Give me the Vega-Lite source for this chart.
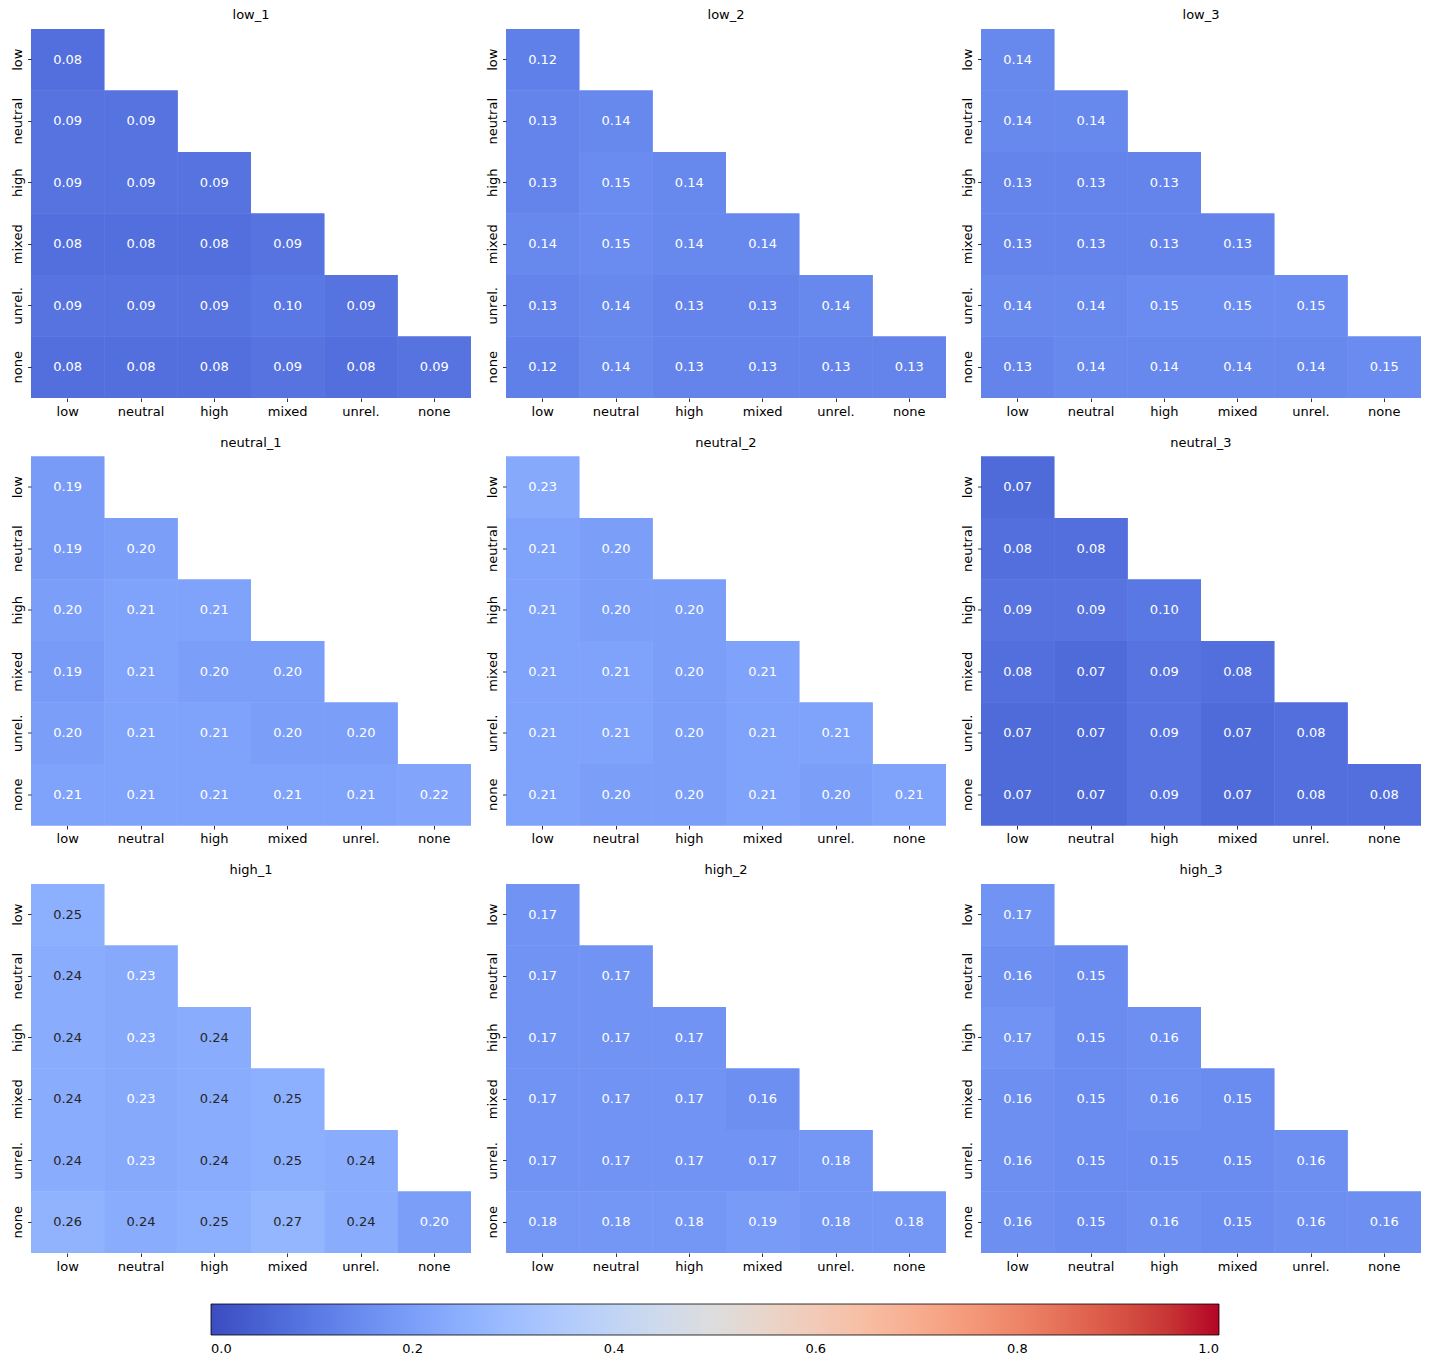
{
  "$schema": "https://vega.github.io/schema/vega-lite/v6.json",
  "background": "white",
  "padding": {"left": 11, "top": 9, "right": 10, "bottom": 5},
  "config": {
    "font": "DejaVu Sans",
    "view": {"stroke": null},
    "axis": {"domain": false, "grid": false, "ticks": true, "tickSize": 3.5, "tickColor": "black", "tickWidth": 0.8, "labelPadding": 3.5, "labelFontSize": 13, "labelColor": "black", "labelFont": "DejaVu Sans"},
    "legend": {"labelFont": "DejaVu Sans", "labelFlush": 0, "labelAlign": "center"}
  },
  "data": {"values": [
    {"p":"low_1","r":"low","c":"low","v":0.08},
    {"p":"low_1","r":"neutral","c":"low","v":0.09},{"p":"low_1","r":"neutral","c":"neutral","v":0.09},
    {"p":"low_1","r":"high","c":"low","v":0.09},{"p":"low_1","r":"high","c":"neutral","v":0.09},{"p":"low_1","r":"high","c":"high","v":0.09},
    {"p":"low_1","r":"mixed","c":"low","v":0.08},{"p":"low_1","r":"mixed","c":"neutral","v":0.08},{"p":"low_1","r":"mixed","c":"high","v":0.08},{"p":"low_1","r":"mixed","c":"mixed","v":0.09},
    {"p":"low_1","r":"unrel.","c":"low","v":0.09},{"p":"low_1","r":"unrel.","c":"neutral","v":0.09},{"p":"low_1","r":"unrel.","c":"high","v":0.09},{"p":"low_1","r":"unrel.","c":"mixed","v":0.10},{"p":"low_1","r":"unrel.","c":"unrel.","v":0.09},
    {"p":"low_1","r":"none","c":"low","v":0.08},{"p":"low_1","r":"none","c":"neutral","v":0.08},{"p":"low_1","r":"none","c":"high","v":0.08},{"p":"low_1","r":"none","c":"mixed","v":0.09},{"p":"low_1","r":"none","c":"unrel.","v":0.08},{"p":"low_1","r":"none","c":"none","v":0.09},

    {"p":"low_2","r":"low","c":"low","v":0.12},
    {"p":"low_2","r":"neutral","c":"low","v":0.13},{"p":"low_2","r":"neutral","c":"neutral","v":0.14},
    {"p":"low_2","r":"high","c":"low","v":0.13},{"p":"low_2","r":"high","c":"neutral","v":0.15},{"p":"low_2","r":"high","c":"high","v":0.14},
    {"p":"low_2","r":"mixed","c":"low","v":0.14},{"p":"low_2","r":"mixed","c":"neutral","v":0.15},{"p":"low_2","r":"mixed","c":"high","v":0.14},{"p":"low_2","r":"mixed","c":"mixed","v":0.14},
    {"p":"low_2","r":"unrel.","c":"low","v":0.13},{"p":"low_2","r":"unrel.","c":"neutral","v":0.14},{"p":"low_2","r":"unrel.","c":"high","v":0.13},{"p":"low_2","r":"unrel.","c":"mixed","v":0.13},{"p":"low_2","r":"unrel.","c":"unrel.","v":0.14},
    {"p":"low_2","r":"none","c":"low","v":0.12},{"p":"low_2","r":"none","c":"neutral","v":0.14},{"p":"low_2","r":"none","c":"high","v":0.13},{"p":"low_2","r":"none","c":"mixed","v":0.13},{"p":"low_2","r":"none","c":"unrel.","v":0.13},{"p":"low_2","r":"none","c":"none","v":0.13},

    {"p":"low_3","r":"low","c":"low","v":0.14},
    {"p":"low_3","r":"neutral","c":"low","v":0.14},{"p":"low_3","r":"neutral","c":"neutral","v":0.14},
    {"p":"low_3","r":"high","c":"low","v":0.13},{"p":"low_3","r":"high","c":"neutral","v":0.13},{"p":"low_3","r":"high","c":"high","v":0.13},
    {"p":"low_3","r":"mixed","c":"low","v":0.13},{"p":"low_3","r":"mixed","c":"neutral","v":0.13},{"p":"low_3","r":"mixed","c":"high","v":0.13},{"p":"low_3","r":"mixed","c":"mixed","v":0.13},
    {"p":"low_3","r":"unrel.","c":"low","v":0.14},{"p":"low_3","r":"unrel.","c":"neutral","v":0.14},{"p":"low_3","r":"unrel.","c":"high","v":0.15},{"p":"low_3","r":"unrel.","c":"mixed","v":0.15},{"p":"low_3","r":"unrel.","c":"unrel.","v":0.15},
    {"p":"low_3","r":"none","c":"low","v":0.13},{"p":"low_3","r":"none","c":"neutral","v":0.14},{"p":"low_3","r":"none","c":"high","v":0.14},{"p":"low_3","r":"none","c":"mixed","v":0.14},{"p":"low_3","r":"none","c":"unrel.","v":0.14},{"p":"low_3","r":"none","c":"none","v":0.15},

    {"p":"neutral_1","r":"low","c":"low","v":0.19},
    {"p":"neutral_1","r":"neutral","c":"low","v":0.19},{"p":"neutral_1","r":"neutral","c":"neutral","v":0.20},
    {"p":"neutral_1","r":"high","c":"low","v":0.20},{"p":"neutral_1","r":"high","c":"neutral","v":0.21},{"p":"neutral_1","r":"high","c":"high","v":0.21},
    {"p":"neutral_1","r":"mixed","c":"low","v":0.19},{"p":"neutral_1","r":"mixed","c":"neutral","v":0.21},{"p":"neutral_1","r":"mixed","c":"high","v":0.20},{"p":"neutral_1","r":"mixed","c":"mixed","v":0.20},
    {"p":"neutral_1","r":"unrel.","c":"low","v":0.20},{"p":"neutral_1","r":"unrel.","c":"neutral","v":0.21},{"p":"neutral_1","r":"unrel.","c":"high","v":0.21},{"p":"neutral_1","r":"unrel.","c":"mixed","v":0.20},{"p":"neutral_1","r":"unrel.","c":"unrel.","v":0.20},
    {"p":"neutral_1","r":"none","c":"low","v":0.21},{"p":"neutral_1","r":"none","c":"neutral","v":0.21},{"p":"neutral_1","r":"none","c":"high","v":0.21},{"p":"neutral_1","r":"none","c":"mixed","v":0.21},{"p":"neutral_1","r":"none","c":"unrel.","v":0.21},{"p":"neutral_1","r":"none","c":"none","v":0.22},

    {"p":"neutral_2","r":"low","c":"low","v":0.23},
    {"p":"neutral_2","r":"neutral","c":"low","v":0.21},{"p":"neutral_2","r":"neutral","c":"neutral","v":0.20},
    {"p":"neutral_2","r":"high","c":"low","v":0.21},{"p":"neutral_2","r":"high","c":"neutral","v":0.20},{"p":"neutral_2","r":"high","c":"high","v":0.20},
    {"p":"neutral_2","r":"mixed","c":"low","v":0.21},{"p":"neutral_2","r":"mixed","c":"neutral","v":0.21},{"p":"neutral_2","r":"mixed","c":"high","v":0.20},{"p":"neutral_2","r":"mixed","c":"mixed","v":0.21},
    {"p":"neutral_2","r":"unrel.","c":"low","v":0.21},{"p":"neutral_2","r":"unrel.","c":"neutral","v":0.21},{"p":"neutral_2","r":"unrel.","c":"high","v":0.20},{"p":"neutral_2","r":"unrel.","c":"mixed","v":0.21},{"p":"neutral_2","r":"unrel.","c":"unrel.","v":0.21},
    {"p":"neutral_2","r":"none","c":"low","v":0.21},{"p":"neutral_2","r":"none","c":"neutral","v":0.20},{"p":"neutral_2","r":"none","c":"high","v":0.20},{"p":"neutral_2","r":"none","c":"mixed","v":0.21},{"p":"neutral_2","r":"none","c":"unrel.","v":0.20},{"p":"neutral_2","r":"none","c":"none","v":0.21},

    {"p":"neutral_3","r":"low","c":"low","v":0.07},
    {"p":"neutral_3","r":"neutral","c":"low","v":0.08},{"p":"neutral_3","r":"neutral","c":"neutral","v":0.08},
    {"p":"neutral_3","r":"high","c":"low","v":0.09},{"p":"neutral_3","r":"high","c":"neutral","v":0.09},{"p":"neutral_3","r":"high","c":"high","v":0.10},
    {"p":"neutral_3","r":"mixed","c":"low","v":0.08},{"p":"neutral_3","r":"mixed","c":"neutral","v":0.07},{"p":"neutral_3","r":"mixed","c":"high","v":0.09},{"p":"neutral_3","r":"mixed","c":"mixed","v":0.08},
    {"p":"neutral_3","r":"unrel.","c":"low","v":0.07},{"p":"neutral_3","r":"unrel.","c":"neutral","v":0.07},{"p":"neutral_3","r":"unrel.","c":"high","v":0.09},{"p":"neutral_3","r":"unrel.","c":"mixed","v":0.07},{"p":"neutral_3","r":"unrel.","c":"unrel.","v":0.08},
    {"p":"neutral_3","r":"none","c":"low","v":0.07},{"p":"neutral_3","r":"none","c":"neutral","v":0.07},{"p":"neutral_3","r":"none","c":"high","v":0.09},{"p":"neutral_3","r":"none","c":"mixed","v":0.07},{"p":"neutral_3","r":"none","c":"unrel.","v":0.08},{"p":"neutral_3","r":"none","c":"none","v":0.08},

    {"p":"high_1","r":"low","c":"low","v":0.25},
    {"p":"high_1","r":"neutral","c":"low","v":0.24},{"p":"high_1","r":"neutral","c":"neutral","v":0.23},
    {"p":"high_1","r":"high","c":"low","v":0.24},{"p":"high_1","r":"high","c":"neutral","v":0.23},{"p":"high_1","r":"high","c":"high","v":0.24},
    {"p":"high_1","r":"mixed","c":"low","v":0.24},{"p":"high_1","r":"mixed","c":"neutral","v":0.23},{"p":"high_1","r":"mixed","c":"high","v":0.24},{"p":"high_1","r":"mixed","c":"mixed","v":0.25},
    {"p":"high_1","r":"unrel.","c":"low","v":0.24},{"p":"high_1","r":"unrel.","c":"neutral","v":0.23},{"p":"high_1","r":"unrel.","c":"high","v":0.24},{"p":"high_1","r":"unrel.","c":"mixed","v":0.25},{"p":"high_1","r":"unrel.","c":"unrel.","v":0.24},
    {"p":"high_1","r":"none","c":"low","v":0.26},{"p":"high_1","r":"none","c":"neutral","v":0.24},{"p":"high_1","r":"none","c":"high","v":0.25},{"p":"high_1","r":"none","c":"mixed","v":0.27},{"p":"high_1","r":"none","c":"unrel.","v":0.24},{"p":"high_1","r":"none","c":"none","v":0.20},

    {"p":"high_2","r":"low","c":"low","v":0.17},
    {"p":"high_2","r":"neutral","c":"low","v":0.17},{"p":"high_2","r":"neutral","c":"neutral","v":0.17},
    {"p":"high_2","r":"high","c":"low","v":0.17},{"p":"high_2","r":"high","c":"neutral","v":0.17},{"p":"high_2","r":"high","c":"high","v":0.17},
    {"p":"high_2","r":"mixed","c":"low","v":0.17},{"p":"high_2","r":"mixed","c":"neutral","v":0.17},{"p":"high_2","r":"mixed","c":"high","v":0.17},{"p":"high_2","r":"mixed","c":"mixed","v":0.16},
    {"p":"high_2","r":"unrel.","c":"low","v":0.17},{"p":"high_2","r":"unrel.","c":"neutral","v":0.17},{"p":"high_2","r":"unrel.","c":"high","v":0.17},{"p":"high_2","r":"unrel.","c":"mixed","v":0.17},{"p":"high_2","r":"unrel.","c":"unrel.","v":0.18},
    {"p":"high_2","r":"none","c":"low","v":0.18},{"p":"high_2","r":"none","c":"neutral","v":0.18},{"p":"high_2","r":"none","c":"high","v":0.18},{"p":"high_2","r":"none","c":"mixed","v":0.19},{"p":"high_2","r":"none","c":"unrel.","v":0.18},{"p":"high_2","r":"none","c":"none","v":0.18},

    {"p":"high_3","r":"low","c":"low","v":0.17},
    {"p":"high_3","r":"neutral","c":"low","v":0.16},{"p":"high_3","r":"neutral","c":"neutral","v":0.15},
    {"p":"high_3","r":"high","c":"low","v":0.17},{"p":"high_3","r":"high","c":"neutral","v":0.15},{"p":"high_3","r":"high","c":"high","v":0.16},
    {"p":"high_3","r":"mixed","c":"low","v":0.16},{"p":"high_3","r":"mixed","c":"neutral","v":0.15},{"p":"high_3","r":"mixed","c":"high","v":0.16},{"p":"high_3","r":"mixed","c":"mixed","v":0.15},
    {"p":"high_3","r":"unrel.","c":"low","v":0.16},{"p":"high_3","r":"unrel.","c":"neutral","v":0.15},{"p":"high_3","r":"unrel.","c":"high","v":0.15},{"p":"high_3","r":"unrel.","c":"mixed","v":0.15},{"p":"high_3","r":"unrel.","c":"unrel.","v":0.16},
    {"p":"high_3","r":"none","c":"low","v":0.16},{"p":"high_3","r":"none","c":"neutral","v":0.15},{"p":"high_3","r":"none","c":"high","v":0.16},{"p":"high_3","r":"none","c":"mixed","v":0.15},{"p":"high_3","r":"none","c":"unrel.","v":0.16},{"p":"high_3","r":"none","c":"none","v":0.16}
  ]},
  "facet": {"field": "p", "type": "nominal", "sort": ["low_1","low_2","low_3","neutral_1","neutral_2","neutral_3","high_1","high_2","high_3"],
    "header": {"title": null, "labelFontSize": 13, "labelFont": "DejaVu Sans", "labelColor": "black", "labelPadding": 7}},
  "columns": 3,
  "spacing": {"row": 18.5, "column": 15},
  "spec": {
    "width": 440,
    "height": 369,
    "encoding": {
      "x": {"field": "c", "type": "nominal", "sort": ["low","neutral","high","mixed","unrel.","none"], "scale": {"paddingInner": 0, "paddingOuter": 0}, "axis": {"title": null, "labelAngle": 0, "orient": "bottom"}},
      "y": {"field": "r", "type": "nominal", "sort": ["low","neutral","high","mixed","unrel.","none"], "scale": {"paddingInner": 0, "paddingOuter": 0}, "axis": {"title": null, "labelAngle": -90, "orient": "left"}}
    },
    "layer": [
      {"mark": {"type": "rect"},
       "encoding": {
         "color": {"field": "v", "type": "quantitative",
         "scale": {"domain": [0,0.03125,0.0625,0.09375,0.125,0.15625,0.1875,0.21875,0.25,0.28125,0.3125,0.34375,0.375,0.40625,0.4375,0.46875,0.5,0.53125,0.5625,0.59375,0.625,0.65625,0.6875,0.71875,0.75,0.78125,0.8125,0.84375,0.875,0.90625,0.9375,0.96875,1],
           "range": ["rgb(59,76,192)","rgb(68,90,204)","rgb(77,104,215)","rgb(87,117,225)","rgb(98,130,234)","rgb(108,142,241)","rgb(119,154,247)","rgb(130,165,251)","rgb(141,176,254)","rgb(152,185,255)","rgb(163,194,255)","rgb(174,201,253)","rgb(184,208,249)","rgb(194,213,244)","rgb(204,217,238)","rgb(213,219,230)","rgb(221,221,221)","rgb(229,216,209)","rgb(236,211,197)","rgb(241,204,185)","rgb(245,196,173)","rgb(247,187,160)","rgb(247,177,148)","rgb(247,166,135)","rgb(244,154,123)","rgb(241,141,111)","rgb(236,127,99)","rgb(229,112,88)","rgb(222,96,77)","rgb(213,80,66)","rgb(203,62,56)","rgb(192,40,47)","rgb(180,4,38)"],
           "interpolate": "rgb"},
         "legend": {"type": "gradient", "title": null, "orient": "none", "legendX": 180, "legendY": 1275, "direction": "horizontal", "gradientLength": 1008, "gradientThickness": 31, "values": [0,0.2,0.4,0.6,0.8,1.0], "format": ".1f", "labelFontSize": 13, "labelColor": "black", "labelAlign": "center", "labelFlush": 0, "labelOffset": 8, "gradientStrokeColor": "black", "gradientStrokeWidth": 0.8}}}},
      {"mark": {"type": "rect"},
       "encoding": {
         "color": {"field": "v", "type": "quantitative",
         "legend": {"type": "gradient", "title": null, "orient": "none", "legendX": 180, "legendY": 1275, "direction": "horizontal", "gradientLength": 1008, "gradientThickness": 31, "values": [0,0.2,0.4,0.6,0.8,1.0], "format": ".1f", "labelFontSize": 13, "labelColor": "black", "labelAlign": "center", "labelFlush": 0, "labelOffset": 8, "gradientStrokeColor": "black", "gradientStrokeWidth": 0.8}}}},
      {"mark": {"type": "text", "fontSize": 13, "font": "DejaVu Sans"},
       "encoding": {"text": {"field": "v", "type": "quantitative", "format": ".2f"},
         "color": {"condition": {"test": "datum.v >= 0.235", "value": "#262626"}, "value": "white"}}}
    ]
  },
  "resolve": {"axis": {"x": "independent", "y": "independent"}}
}
